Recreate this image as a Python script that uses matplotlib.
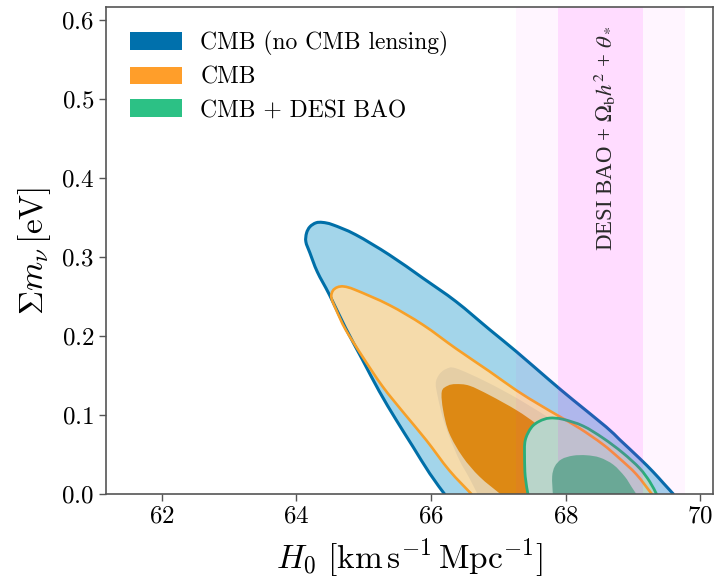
import numpy as np
import matplotlib
matplotlib.use('Agg')
import matplotlib.pyplot as plt
from matplotlib.patches import Patch, PathPatch
from matplotlib.path import Path

plt.rcParams['font.family'] = 'cmr10'
plt.rcParams['mathtext.fontset'] = 'cm'
plt.rcParams['axes.formatter.use_mathtext'] = True

# contour outlines (H0 in km/s/Mpc, sum m_nu in eV)
blue95_h0 = [66.20, 65.98, 65.73, 65.48, 65.23, 64.98, 64.73, 64.49, 64.31, 64.20, 64.14, 64.15,
             64.20, 64.29, 64.39, 64.54, 64.88, 65.38, 65.88, 66.37, 66.87, 67.27, 67.76, 68.11,
             68.60, 68.80, 69.10, 69.30, 69.45, 69.60]
blue95_mnu = [0.0, 0.026, 0.060, 0.094, 0.130, 0.170, 0.210, 0.252, 0.281, 0.305, 0.319, 0.330,
              0.338, 0.343, 0.3435, 0.3405, 0.328, 0.3025, 0.273, 0.2435, 0.208, 0.180, 0.144, 0.119,
              0.085, 0.069, 0.045, 0.028, 0.014, 0.0]

blue68_h0 = [66.69, 66.57, 66.42, 66.27, 66.17, 66.10, 66.07, 66.12, 66.22, 66.37, 66.82, 67.32,
             67.89, 68.36, 68.75, 68.90]
blue68_mnu = [0.0, 0.020, 0.043, 0.073, 0.098, 0.123, 0.140, 0.151, 0.158, 0.159, 0.142, 0.119,
              0.089, 0.064, 0.030, 0.0]

orange95_h0 = [66.60, 66.27, 65.93, 65.60, 65.28, 64.98, 64.73, 64.59, 64.52, 64.54, 64.61, 64.71,
               64.88, 65.38, 65.88, 66.37, 66.87, 67.27, 67.61, 67.89, 68.21, 68.55, 68.80, 69.05,
               69.28]
orange95_mnu = [0.0, 0.030, 0.068, 0.102, 0.136, 0.174, 0.208, 0.233, 0.248, 0.257, 0.2616, 0.2624,
                0.258, 0.239, 0.214, 0.184, 0.155, 0.131, 0.113, 0.099, 0.083, 0.063, 0.045, 0.025,
                0.0]

orange68_h0 = [67.03, 66.72, 66.47, 66.27, 66.18, 66.16, 66.25, 66.37, 66.57, 66.87, 67.27, 67.56,
               67.86, 68.06, 68.13]
orange68_mnu = [0.0, 0.022, 0.047, 0.077, 0.106, 0.1295, 0.137, 0.139, 0.137, 0.125, 0.106, 0.089,
                0.068, 0.039, 0.0]

green95_h0 = [67.44, 67.40, 67.39, 67.40, 67.49, 67.61, 67.76, 67.96, 68.26, 68.56, 68.85, 69.10,
              69.25, 69.35]
green95_mnu = [0.0, 0.022, 0.047, 0.068, 0.084, 0.092, 0.096, 0.0945, 0.086, 0.0705, 0.052, 0.0325,
               0.0156, 0.0]

green68_h0 = [67.81, 67.80, 67.84, 67.94, 68.11, 68.31, 68.51, 68.71, 68.88, 68.98, 69.05]
green68_mnu = [0.0, 0.022, 0.035, 0.044, 0.0485, 0.049, 0.046, 0.037, 0.022, 0.009, 0.0]

# DESI BAO + Omega_b h^2 + theta_* band
desi_h0 = 68.52
desi_sig = 0.63

labels = ['CMB (no CMB lensing)', 'CMB', 'CMB + DESI BAO']
line_cols = ['#006fa8', '#f7a028', '#22b675']
legend_cols = ['#0070ac', '#ff9e2a', '#2cc185']


def smooth(xs, ys, closed):
    # catmull-rom through the read-off points, as cubic bezier segments
    p = np.column_stack([xs, ys])
    ext = np.vstack([p[0], p, p[-1]])
    verts = [p[0]]
    codes = [Path.MOVETO]
    for i in range(len(p) - 1):
        p0, p1, p2, p3 = ext[i], ext[i + 1], ext[i + 2], ext[i + 3]
        verts += [p1 + (p2 - p0) / 6, p2 - (p3 - p1) / 6, p2]
        codes += [Path.CURVE4] * 3
    if closed:
        verts.append(p[0])
        codes.append(Path.CLOSEPOLY)
    return Path(verts, codes)


def contour(ax, xs, ys, fc, alpha=1.0, z=1, ec=None, lw=0, lz=2):
    ax.add_patch(PathPatch(smooth(xs, ys, True), facecolor=fc, edgecolor='none',
                           alpha=alpha, zorder=z))
    if ec is not None:
        ax.add_patch(PathPatch(smooth(xs, ys, False), facecolor='none', edgecolor=ec,
                               lw=lw, zorder=lz, capstyle='round', joinstyle='round'))


fig = plt.figure(figsize=(7.17, 5.85), dpi=100)
ax = fig.add_axes([106 / 717, 91 / 585, 607 / 717, 487 / 585])

contour(ax, blue95_h0, blue95_mnu, '#a3d5ea', z=1, ec=line_cols[0], lw=2.2, lz=2)
contour(ax, blue68_h0, blue68_mnu, '#005aa5', z=1.1)
contour(ax, orange95_h0, orange95_mnu, '#ffdca5', alpha=0.9, z=1.2, ec=line_cols[1], lw=1.9, lz=2.1)
contour(ax, orange68_h0, orange68_mnu, '#dd8914', z=1.3)
contour(ax, green95_h0, green95_mnu, '#b7dec8', z=1.4, ec=line_cols[2], lw=2.0, lz=2.2)
contour(ax, green68_h0, green68_mnu, '#6aa896', z=3.5)

ax.axvspan(desi_h0 - 2 * desi_sig, desi_h0 + 2 * desi_sig, color='#ff00ff', alpha=0.04, lw=0, zorder=3)
ax.axvspan(desi_h0 - desi_sig, desi_h0 + desi_sig, color='#ff00ff', alpha=0.10, lw=0, zorder=3)
ax.text(desi_h0 + 0.06, 0.45, r'DESI BAO + $\Omega_{\rm b}h^2$ + $\theta_*$', rotation=90,
        ha='center', va='center', fontsize=16.5, family='Liberation Serif',
        math_fontfamily='stix', color='#2a2a2a', zorder=4)

handles = [Patch(facecolor=c, edgecolor='none') for c in legend_cols]
ax.legend(handles, labels, loc='upper left', frameon=False, fontsize=17,
          handlelength=2.2, handleheight=0.75, labelspacing=0.45,
          borderaxespad=0.6, handletextpad=0.8)

ax.set_xlim(61.17, 70.19)
ax.set_ylim(0, 0.616)
ax.set_xticks([62, 64, 66, 68, 70])
ax.set_yticks([0.0, 0.1, 0.2, 0.3, 0.4, 0.5, 0.6])
ax.set_xlabel(r'$H_0\ [{\rm km\,s^{-1}\,Mpc^{-1}}]$', fontsize=24, labelpad=6)
ax.set_ylabel(r'$\Sigma m_\nu\,[{\rm eV}]$', fontsize=24, labelpad=6)
ax.tick_params(labelsize=18, length=5, width=1.0, color='#555555', direction='out')
for s in ax.spines.values():
    s.set_color('#555555')
    s.set_linewidth(1.2)
    s.set_zorder(5)

fig.savefig('out.png', dpi=100)
